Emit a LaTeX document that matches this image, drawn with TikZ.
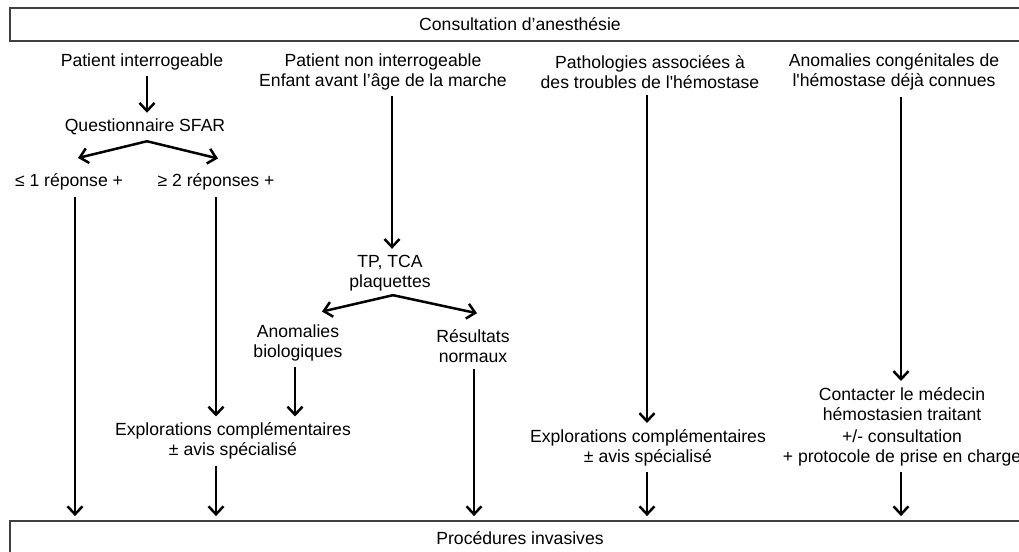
\documentclass[tikz,border=0pt]{standalone}
\usepackage{fontspec}
\setmainfont{Liberation Sans}
\usetikzlibrary{arrows.meta}
\tikzset{bigbox/.style = {draw=black!75, line width=1.8pt, minimum width=1020pt,
                          minimum height=33pt, inner sep=0pt}}
\tikzset{lbl/.style = {align=center, inner sep=2pt}}
\tikzset{arr/.style = {-{Straight Barb[length=8pt,width=15pt]}, line width=2.5pt,
                       shorten <=4pt, shorten >=4pt}}
\tikzset{fork/.style = {arr, shorten <=0pt, shorten >=0pt}}

\begin{document}
\begin{tikzpicture}[x=1pt, y=-1pt, font=\fontsize{17.6pt}{20pt}\selectfont]
			\useasboundingbox (0,0) rectangle (1019,551);
			\clip (0,0) rectangle (1019,551);
			\node [bigbox] (consult) at (520,24.5) {Consultation d’anesthésie};
			\node [bigbox, minimum height=34pt] (proc) at (520,538) {Procédures invasives};
			\node [lbl] (pi) at (142,62) {Patient interrogeable};
			\node [lbl] (pni) at (383,72) {Patient non interrogeable\\Enfant avant l’âge de la marche};
			\node [lbl] (path) at (650,72) {Pathologies associées à\\des troubles de l\textquotesingle hémostase};
			\node [lbl] (acn) at (894,72) {Anomalies congénitales de\\l\textquotesingle hémostase déjà connues};
			\node [lbl] (qs) at (145,127) {Questionnaire SFAR};
			\node [lbl] (le1) at (69,182) {≤ 1 réponse +};
			\node [lbl] (ge2) at (216,182) {≥ 2 réponses +};
			\node [lbl] (tp) at (390,273) {TP, TCA\\plaquettes};
			\node [lbl] (ab) at (298,343) {Anomalies\\biologiques};
			\node [lbl] (rn) at (473,346) {Résultats\\normaux};
			\node [lbl] (ex1) at (233,441) {Explorations complémentaires\\± avis spécialisé};
			\node [lbl] (ex3) at (648,447.5) {Explorations complémentaires\\± avis spécialisé};
			\node [lbl] (cm) at (902,426.5) {Contacter le médecin\\hémostasien traitant\\[2pt]+/- consultation\\+ protocole de prise en charge};
			\coordinate (k0) at (147,0);
			\coordinate (k1) at (75,0);
			\coordinate (k2) at (216,0);
			\coordinate (k3) at (295,0);
			\coordinate (k4) at (392,0);
			\coordinate (k5) at (474,0);
			\coordinate (k6) at (647,0);
			\coordinate (k7) at (901,0);
			\draw [arr] (pi.south -| k0) to (qs.north -| k0);
			\draw [fork] ([xshift=2pt,yshift=-4pt]qs.south) to ([xshift=9pt,yshift=13.5pt]le1.north);
			\draw [fork] ([xshift=2pt,yshift=-4pt]qs.south) to ([xshift=2pt,yshift=13pt]ge2.north);
			\draw [arr] (le1.south -| k1) to (proc.north -| k1);
			\draw [arr] (ge2.south -| k2) to (ex1.north -| k2);
			\draw [arr] (ex1.south -| k2) to (proc.north -| k2);
			\draw [arr] (pni.south -| k4) to (tp.north -| k4);
			\draw [fork] ([xshift=3pt,yshift=-2pt]tp.south) to ([xshift=24pt,yshift=11pt]ab.north);
			\draw [fork] ([xshift=3pt,yshift=-2pt]tp.south) to ([xshift=4pt,yshift=14pt]rn.north);
			\draw [arr] (ab.south -| k3) to (ex1.north -| k3);
			\draw [arr] (rn.south -| k5) to (proc.north -| k5);
			\draw [arr] (path.south -| k6) to (ex3.north -| k6);
			\draw [arr] (ex3.south -| k6) to (proc.north -| k6);
			\draw [arr] (acn.south -| k7) to (cm.north -| k7);
			\draw [arr] (cm.south -| k7) to (proc.north -| k7);
\end{tikzpicture}
\end{document}
